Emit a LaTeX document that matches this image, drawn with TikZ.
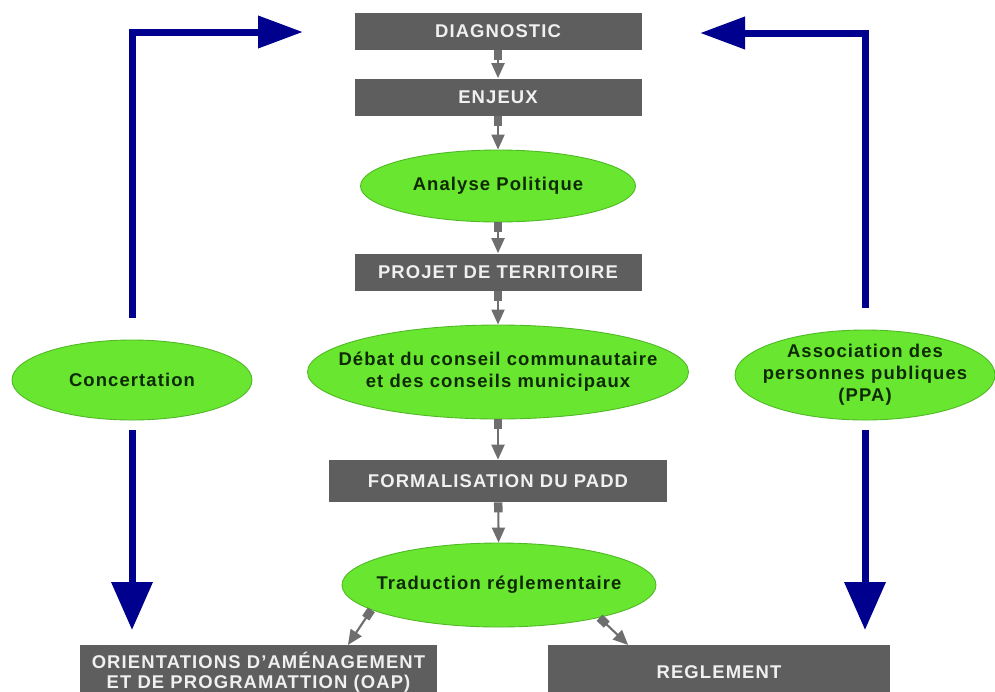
\documentclass[tikz,border=0pt]{standalone}
\usepackage{fontspec}
\setmainfont{Liberation Sans}[LetterSpace=6]
\usepackage{tikz}
\usetikzlibrary{calc,arrows.meta}
\usetikzlibrary{shapes.geometric}
\definecolor{pl-box}{HTML}{5E5E5E}
\definecolor{pl-boxtext}{HTML}{F0F0F0}
\definecolor{pl-green}{HTML}{68E630}
\definecolor{pl-greenline}{HTML}{4FB825}
\definecolor{pl-greentext}{HTML}{0E2A04}
\definecolor{pl-link}{HTML}{6E6E6E}
\definecolor{pl-blue}{HTML}{00008E}

\begin{document}
\begin{tikzpicture}[
    box/.style={fill=pl-box, text=pl-boxtext, minimum width=5.74cm, minimum height=0.74cm, align=center, font=\fontsize{10.5}{12.5}\selectfont\bfseries},
    bubble/.style={ellipse, draw=pl-greenline, fill=pl-green, line width=0.5pt, inner sep=0pt},
    bubbletext/.style={text=pl-greentext, align=center, font=\fontsize{10.5}{12.5}\selectfont\bfseries},
    link/.style={{Square[length=0.2cm,width=0.17cm]}-{Triangle[length=0.3cm,width=0.26cm]}, line width=1.2pt, draw=pl-link, fill=pl-link},
    flow/.style={draw=pl-blue, line width=0.14cm},
    uphead/.style={-{Triangle[length=0.9cm,width=0.62cm]}},
    downhead/.style={-{Triangle[length=0.96cm,width=0.8cm]}}
]
\useasboundingbox (0,0) rectangle (19.9,-13.82);

% ── Colonne centrale ──────────────────────────────────────────
\node[box] (diag) at (9.96,-0.62) {DIAGNOSTIC};
\node[box] (enjeux) at (9.96,-1.94) {ENJEUX};
\node[bubble, minimum width=5.5cm, minimum height=1.44cm] (analyse) at (9.96,-3.72) {};
\node[bubbletext] (analyseT) at (analyse) {Analyse Politique};
\node[box] (projet) at (9.96,-5.44) {PROJET DE TERRITOIRE};
\node[bubble, minimum width=7.62cm, minimum height=1.88cm] (debat) at (9.96,-7.44) {};
\node[bubbletext] (debatT) at (debat) {Débat du conseil communautaire\\et des conseils municipaux};
\node[box, minimum width=6.76cm, minimum height=0.84cm] (padd) at (9.96,-9.62) {FORMALISATION DU PADD};
\node[bubble, minimum width=6.28cm, minimum height=1.68cm] (trad) at (9.98,-11.7) {};
\node[bubbletext] (tradT) at (trad) {Traduction réglementaire};

% ── Documents finaux ──────────────────────────────────────────
\node[box, anchor=north, minimum width=7.14cm, minimum height=1.06cm, font=\fontsize{10.5}{11.5}\selectfont\bfseries] (oap) at (5.17,-12.9) {ORIENTATIONS D'AMÉNAGEMENT\\ET DE PROGRAMATTION (OAP)};
\node[box, anchor=north, minimum width=6.84cm, minimum height=1.06cm] (regl) at (14.38,-12.9) {REGLEMENT};

% ── Concertation / PPA ────────────────────────────────────────
\node[bubble, minimum width=4.8cm, minimum height=1.6cm] (conc) at (2.64,-7.6) {};
\node[bubbletext] (concT) at (conc) {Concertation};
\node[bubble, minimum width=5.2cm, minimum height=1.8cm] (ppa) at (17.3,-7.5) {};
\node[bubbletext] (ppaT) at (ppa) {Association des\\personnes publiques\\(PPA)};

% liens gris
\draw[link] (diag) -- (enjeux);
\draw[link] (enjeux) -- (analyse);
\draw[link] (analyse) -- (projet);
\draw[link] (projet) -- (debat);
\draw[link] (debat) -- (padd);
\draw[link] (padd) -- (trad);
\draw[link] (trad.191) -- ($(oap.north west)!0.75!(oap.north east)$);
\draw[link] (trad.-18) -- ($(regl.north west)!0.235!(regl.north east)$);

% flèches bleues
\coordinate (toDiagL) at (6.06,-0.64);
\coordinate (toDiagR) at (14.0,-0.66);
\draw[flow, uphead, shorten <=0.44cm] (conc.north) |- (toDiagL);
\draw[flow, uphead, shorten <=0.44cm] (ppa.north) |- (toDiagR);
\draw[flow, downhead, shorten <=0.2cm, shorten >=0.3cm] (conc.south) -- (conc.south |- oap.north);
\draw[flow, downhead, shorten <=0.2cm, shorten >=0.3cm] (ppa.south) -- (ppa.south |- regl.north);

\end{tikzpicture}
\end{document}
